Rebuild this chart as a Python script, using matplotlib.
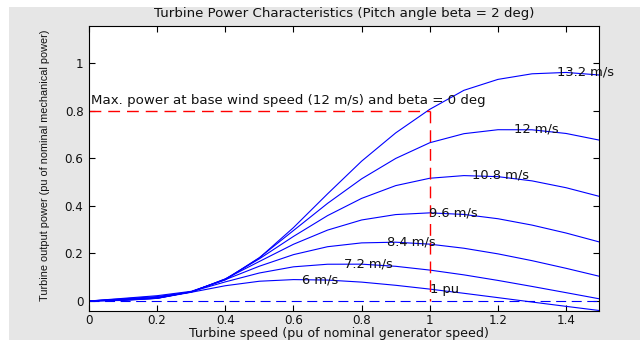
import numpy as np
import matplotlib
matplotlib.use("Agg")
import matplotlib.pyplot as plt
from matplotlib.patches import Rectangle

# ---- data ----
speed = [0.0, 0.1, 0.2, 0.3, 0.4, 0.5, 0.6, 0.7, 0.8, 0.9, 1.0, 1.1, 1.2, 1.3, 1.4, 1.5]

p_6 = [0.0, 0.0024, 0.0114, 0.0367, 0.0643, 0.0832, 0.0901, 0.0881, 0.0795, 0.0661,
       0.0501, 0.0325, 0.0142, -0.0043, -0.0225, -0.0404]
p_7_2 = [0.0, 0.0033, 0.0111, 0.0392, 0.0805, 0.1179, 0.1438, 0.1547, 0.1550, 0.1460,
         0.1301, 0.1100, 0.0866, 0.0613, 0.0351, 0.0086]
p_8_4 = [0.0, 0.0045, 0.0117, 0.0389, 0.0899, 0.1465, 0.1951, 0.2284, 0.2445, 0.2474,
         0.2391, 0.2220, 0.1983, 0.1697, 0.1375, 0.1032]
p_9_6 = [0.0, 0.0059, 0.0132, 0.0383, 0.0930, 0.1664, 0.2387, 0.2983, 0.3409, 0.3636,
         0.3708, 0.3641, 0.3461, 0.3193, 0.2859, 0.2474]
p_10_8 = [0.0, 0.0074, 0.0157, 0.0375, 0.0927, 0.1776, 0.2717, 0.3592, 0.4317, 0.4854,
          0.5164, 0.5275, 0.5231, 0.5053, 0.4765, 0.4392]
p_12 = [0.0, 0.0092, 0.0188, 0.0384, 0.0908, 0.1823, 0.2965, 0.4107, 0.5140, 0.5997,
        0.6658, 0.7038, 0.7205, 0.7202, 0.7047, 0.6760]
p_13_2 = [0.0, 0.0111, 0.0224, 0.0408, 0.0892, 0.1816, 0.3088, 0.4508, 0.5883, 0.7072,
          0.8064, 0.8862, 0.9322, 0.9557, 0.9614, 0.9503]

series = [p_6, p_7_2, p_8_4, p_9_6, p_10_8, p_12, p_13_2]
wind_labels = ["6 m/s", "7.2 m/s", "8.4 m/s", "9.6 m/s", "10.8 m/s", "12 m/s", "13.2 m/s"]
# maximum-power point of each curve (where the label is written)
peak_speed = [0.624, 0.748, 0.873, 0.998, 1.123, 1.247, 1.372]
peak_power = [0.090, 0.156, 0.248, 0.371, 0.528, 0.724, 0.962]

base_speed = 1.0
base_power = 0.8

xticks = [0, 0.2, 0.4, 0.6, 0.8, 1.0, 1.2, 1.4]
xticklabels = ["0", "0.2", "0.4", "0.6", "0.8", "1", "1.2", "1.4"]
yticks = [0, 0.2, 0.4, 0.6, 0.8, 1.0]
yticklabels = ["0", "0.2", "0.4", "0.6", "0.8", "1"]

# ---- figure ----
plt.rcParams['font.family'] = ['DejaVu Sans']
FS = 9.4
TXT = "#111111"
W, H = 644, 340
fig = plt.figure(figsize=(W / 100, H / 100), dpi=100, facecolor="white")
fig.patches.append(Rectangle((9 / W, 0), (640 - 9) / W, 1 - 7 / H,
                             transform=fig.transFigure, facecolor="#e6e6e6",
                             edgecolor="none", zorder=-10))

ax = fig.add_axes([89 / W, (H - 311) / H, (598.5 - 89) / W, (311 - 25.7) / H])
ax.set_zorder(1)
ax.set_facecolor("white")

blue = "#0000ff"
for y in series:
    ax.plot(speed, y, color=blue, lw=0.8, solid_joinstyle="round")

for sx, sy, lab in zip(peak_speed, peak_power, wind_labels):
    ax.text(sx, sy, lab, ha="left", va="center", fontsize=FS, color=TXT)

# zero line (blue dashed)
ax.plot([0, 1.5], [0, 0], color=blue, lw=0.8, dashes=(9, 5))
# red dashed base lines
ax.plot([0, base_speed], [base_power, base_power], color="red", lw=1.0, dashes=(8.5, 5))
ax.plot([base_speed, base_speed], [base_power, 0], color="red", lw=1.0, dashes=(8.5, 5))

ax.text(0.005, 0.845, "Max. power at base wind speed (12 m/s) and beta = 0 deg",
        ha="left", va="center", fontsize=9.6, color=TXT)
ax.text(1.0, 0.047, "1 pu", ha="left", va="center", fontsize=FS, color=TXT)

ax.set_xlim(0, 1.495)
ax.set_ylim(-0.042, 1.158)
ax.set_xticks(xticks)
ax.set_xticklabels(xticklabels)
ax.set_yticks(yticks)
ax.set_yticklabels(yticklabels)
ax.tick_params(direction="in", length=4, width=0.8, top=True, right=True,
               labelsize=8.6, labelcolor=TXT)
ax.tick_params(axis="x", pad=2.3)
ax.tick_params(axis="y", pad=4)
for s in ax.spines.values():
    s.set_linewidth(0.8)
    s.set_color("black")

ax.set_title("Turbine Power Characteristics (Pitch angle beta = 2 deg)", fontsize=9.6,
             pad=0, y=1.0435, va="center", color=TXT)
ax.set_xlabel("Turbine speed (pu of nominal generator speed)", fontsize=9.1, color=TXT)
ax.xaxis.set_label_coords(0.49, -29.5 / 285.3)
ax.xaxis.label.set_va("bottom")
ax.set_ylabel("Turbine output power (pu of nominal mechanical power)", fontsize=7.8,
              color=TXT, family=["Liberation Sans", "DejaVu Sans"])
ax.yaxis.set_label_coords(-0.0864, 0.51)
ax.yaxis.label.set_va("center")

fig.savefig("out.png", dpi=100, facecolor=fig.get_facecolor())
